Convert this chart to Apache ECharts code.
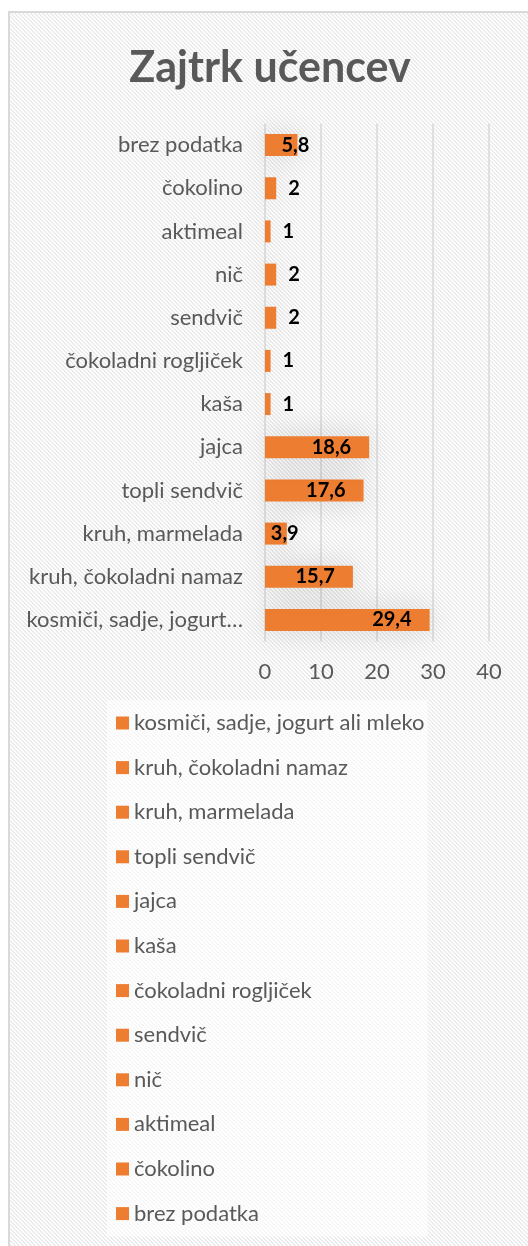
<!DOCTYPE html>
<html>
<head>
<meta charset="utf-8">
<script src="https://cdn.jsdelivr.net/npm/echarts@6/dist/echarts.min.js"></script>
<style>
  html, body { margin: 0; padding: 0; background: #fff; }
  #chart {
    position: absolute; left: 8px; top: 11px;
    width: 520px; height: 1235px;
    border-left: 2px solid #d9d9d9; border-top: 2px solid #d9d9d9;
  }
</style>
</head>
<body>
<div id="chart"></div>
<script>
// categories, bottom to top (same order as the legend)
const categories = [
  "kosmiči, sadje, jogurt ali mleko",
  "kruh, čokoladni namaz",
  "kruh, marmelada",
  "topli sendvič",
  "jajca",
  "kaša",
  "čokoladni rogljiček",
  "sendvič",
  "nič",
  "aktimeal",
  "čokolino",
  "brez podatka",
];
const values = [29.4, 15.7, 3.9, 17.6, 18.6, 1, 1, 2, 2, 1, 2, 5.8];
const xTicks = [0, 10, 20, 30, 40];

const ORANGE = "#ED7D31";
const GREY = "#595959";
const FONT = "Lato";

// diagonal hatch background like the excel chart area
const makeHatch = () => {
  const c = document.createElement("canvas");
  c.width = 4;
  c.height = 4;
  const ctx = c.getContext("2d");
  ctx.fillStyle = "#ffffff";
  ctx.fillRect(0, 0, 4, 4);
  ctx.fillStyle = "#ebebeb";
  for (let y = 0; y < 4; y++) {
    for (let x = 0; x < 4; x++) {
      if ((x - y + 8) % 4 < 2) ctx.fillRect(x, y, 1, 1);
    }
  }
  return c;
};

const fmt = (v) => String(v).replace(".", ",");

const labelFor = (v) => {
  if (v >= 10) {
    return { show: true, position: "insideRight", distance: 18 };
  } else if (v >= 3) {
    return { show: true, position: "right", distance: -16 };
  }
  return { show: true, position: "right", distance: 12 };
};

const series = categories.map((name, i) => ({
  name: name,
  type: "bar",
  stack: "all",
  barWidth: 22,
  itemStyle: {
    color: ORANGE,
    shadowBlur: 30,
    shadowColor: "rgba(0,0,0,0.15)",
  },
  label: Object.assign(labelFor(values[i]), {
    color: "#000",
    fontFamily: FONT,
    fontWeight: "bold",
    fontSize: 20,
    formatter: (p) => fmt(p.value),
  }),
  data: categories.map((c, j) => (j === i ? values[i] : "-")),
}));

const chart = echarts.init(document.getElementById("chart"));
chart.setOption({
  backgroundColor: { image: makeHatch(), repeat: "repeat" },
  animation: false,
  title: {
    text: "Zajtrk učencev",
    left: "center",
    top: 29,
    textStyle: {
      fontFamily: FONT,
      fontWeight: "bold",
      fontSize: 43,
      color: GREY,
    },
  },
  grid: {
    left: 255,
    right: 41,
    top: 110.5,
    bottom: 606.5,
    containLabel: false,
  },
  xAxis: {
    type: "value",
    min: xTicks[0],
    max: xTicks[xTicks.length - 1],
    interval: 10,
    axisLine: { show: false },
    axisTick: { show: false },
    splitLine: { lineStyle: { color: "#d9d9d9", width: 1.5 } },
    axisLabel: {
      color: GREY,
      fontFamily: FONT,
      fontSize: 22,
      margin: 19,
    },
  },
  yAxis: {
    type: "category",
    data: categories,
    axisLine: { show: false },
    axisTick: { show: false },
    axisLabel: {
      color: GREY,
      fontFamily: FONT,
      fontSize: 22,
      margin: 22,
      formatter: (v) => (v.length > 24 ? v.slice(0, 22) + "…" : v),
    },
  },
  legend: {
    orient: "vertical",
    left: 97,
    top: 687,
    padding: [11, 3, 11, 9],
    backgroundColor: "rgba(255,255,255,0.6)",
    itemWidth: 13,
    itemHeight: 13,
    itemGap: 20.6,
    icon: "rect",
    textStyle: {
      color: GREY,
      fontFamily: FONT,
      fontSize: 22,
      lineHeight: 24,
    },
    data: categories,
  },
  series: series,
});
</script>
</body>
</html>
